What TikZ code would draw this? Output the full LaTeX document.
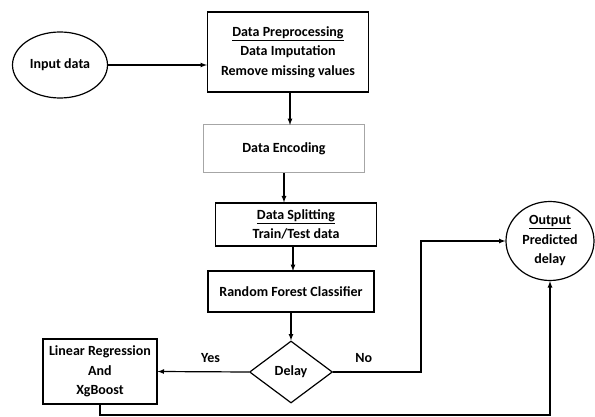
\documentclass[tikz,border=0pt]{standalone}
\usepackage{fontspec}
\setmainfont{Carlito}
\usetikzlibrary{shapes,arrows,positioning}

\begin{document}
\begin{tikzpicture}[x=1pt,y=-1pt,line width=1.2pt,
			box node/.style={
				rectangle, draw=black, line width=1.2pt,
				fill=white, text=black, align=center,
				inner sep=0pt, font=\bfseries\fontsize{14}{19.5}\selectfont},
			oval node/.style={
				ellipse, draw=black, line width=1.2pt,
				fill=white, text=black, align=center,
				inner sep=0pt, font=\bfseries\fontsize{14}{19.5}\selectfont},
			decision node/.style={
				diamond, draw=black, line width=1.2pt,
				fill=white, text=black, align=center,
				inner sep=0pt, font=\bfseries\fontsize{14}{19.5}\selectfont},
			flow/.style={-latex, line width=1.2pt, black},
			label text/.style={font=\bfseries\fontsize{14}{16}\selectfont}
			]
			\useasboundingbox (0,0) rectangle (595,417);
			\node[oval node,minimum width=95pt,minimum height=66pt] (in) at (60,65)
			{Input data};
			\node[box node,minimum width=161pt,minimum height=80pt] (pre) at (288,52)
			{\underline{Data Preprocessing}\\Data Imputation\\Remove missing values};
			\node[box node,draw=black!35,line width=1pt,minimum width=161pt,minimum height=48pt] (enc) at (284,149)
			{Data Encoding};
			\node[box node,minimum width=161pt,minimum height=43pt] (split) at (296,224.5)
			{\underline{Data Splitting}\\Train/Test data};
			\node[box node,minimum width=166pt,minimum height=41pt] (rf) at (291,291.5)
			{Random Forest Classifier};
			\node[decision node,minimum width=83pt,minimum height=62pt] (delay) at (291,372)
			{Delay};
			\node[box node,minimum width=114pt,minimum height=65pt] (lr) at (100,371.5)
			{Linear Regression\\And\\XgBoost};
			\node[oval node,minimum width=88pt,minimum height=79pt] (out) at (550,241)
			{\underline{Output}\\Predicted\\delay};
			\coordinate (nobend) at (421,241);
			\coordinate (lrbend) at (100,415);
			
			\draw[flow] (in.east) -- (in.east -| pre.west);
			\draw[flow] (290,92) -- (290,125);
			\draw[flow] (enc.south) -- (enc.south |- split.north);
			\draw[flow] (293,246) -- (293,271);
			\draw[flow] (rf.south) -- (delay.north);
			\draw[flow] (delay.west) -- (lr.east)
			node[label text,pos=0.42,above=5pt] {Yes};
			\draw[flow] (delay.east) -- (delay.east -| nobend)
			node[label text,pos=0.35,above=5pt] {No} -- (nobend) -- (out.west);
			\draw[flow] (lr.south) -- (lrbend) -- (lrbend -| out.south) -- (out.south);
		\end{tikzpicture}
\end{document}
